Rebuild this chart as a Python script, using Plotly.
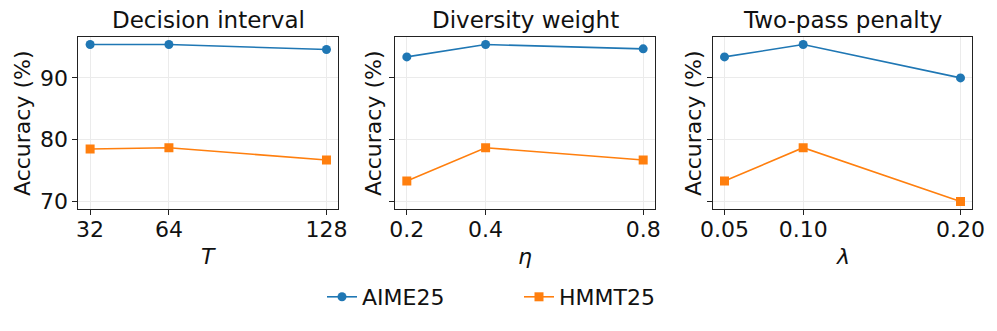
import plotly.graph_objects as go

# ablation settings
interval_T = [32, 64, 128]
diversity_eta = [0.2, 0.4, 0.8]
penalty_lambda = [0.05, 0.10, 0.20]

tick_T = ["32", "64", "128"]
tick_eta = ["0.2", "0.4", "0.8"]
tick_lambda = ["0.05", "0.10", "0.20"]

# accuracy (%)
aime_T = [95.4, 95.4, 94.6]
hmmt_T = [78.5, 78.7, 76.7]
aime_eta = [93.4, 95.4, 94.7]
hmmt_eta = [73.3, 78.7, 76.7]
aime_lambda = [93.4, 95.4, 90.0]
hmmt_lambda = [73.3, 78.7, 70.0]

titles = ["Decision interval", "Diversity weight", "Two-pass penalty"]
xlabels = ["<i>T</i>", "<i>η</i>", "<i>λ</i>"]

BLUE = "#1f77b4"
ORANGE = "#ff7f0e"
FONT = "DejaVu Sans"

# page body has an 8px margin, so the figure is 16px smaller than the window
OFF = 8
W, H = 997 - 2 * OFF, 331 - 2 * OFF


def fx(px):
    return (px - OFF) / W


def fy(py):
    return 1 - (py - OFF) / H


panels = [
    (interval_T, tick_T, aime_T, hmmt_T),
    (diversity_eta, tick_eta, aime_eta, hmmt_eta),
    (penalty_lambda, tick_lambda, aime_lambda, hmmt_lambda),
]

# plot areas in window pixels (left, right)
px_x = [(78.3, 338.3), (395.0, 655.0), (712.7, 972.3)]
top_px, bot_px = 36.7, 209.3

fig = go.Figure()
annotations = []

all_y = aime_T + hmmt_T + aime_eta + hmmt_eta + aime_lambda + hmmt_lambda
ylo, yhi = min(all_y), max(all_y)
ypad = 0.05 * (yhi - ylo)

for i, (xs, ticks, aime, hmmt) in enumerate(panels):
    n = "" if i == 0 else str(i + 1)
    fig.add_trace(go.Scatter(
        x=xs, y=aime, name="AIME25", mode="lines+markers",
        line=dict(color=BLUE, width=1.6),
        marker=dict(symbol="circle", size=9, color=BLUE),
        xaxis="x" + n, yaxis="y" + n, showlegend=(i == 0)))
    fig.add_trace(go.Scatter(
        x=xs, y=hmmt, name="HMMT25", mode="lines+markers",
        line=dict(color=ORANGE, width=1.6),
        marker=dict(symbol="square", size=9, color=ORANGE),
        xaxis="x" + n, yaxis="y" + n, showlegend=(i == 0)))

    span = max(xs) - min(xs)
    x0, x1 = px_x[i]
    fig.layout["xaxis" + n] = dict(
        domain=[fx(x0), fx(x1)], anchor="y" + n, automargin=False,
        range=[min(xs) - 0.05 * span, max(xs) + 0.05 * span],
        tickvals=xs, ticktext=ticks, ticklabelstandoff=-5,
        showgrid=True, gridcolor="#ebebeb", gridwidth=0.8, zeroline=False,
        showline=True, linecolor="#222", linewidth=1, mirror=True,
        ticks="outside", ticklen=5, tickcolor="#222",
        tickfont=dict(size=22, color="#111", family=FONT))
    fig.layout["yaxis" + n] = dict(
        domain=[fy(bot_px), fy(top_px)], anchor="x" + n, automargin=False,
        range=[ylo - ypad, yhi + ypad], tickvals=[70, 80, 90],
        showticklabels=(i == 0),
        showgrid=True, gridcolor="#ebebeb", gridwidth=0.8, zeroline=False,
        showline=True, linecolor="#222", linewidth=1, mirror=True,
        ticks="outside", ticklen=5, tickcolor="#222",
        tickfont=dict(size=22, color="#111", family=FONT))

    cx = fx((x0 + x1) / 2)
    annotations.append(dict(text=titles[i], x=cx, y=fy(20), xref="paper", yref="paper",
                            showarrow=False, xanchor="center", yanchor="middle",
                            font=dict(size=23, color="#111", family=FONT)))
    annotations.append(dict(text=xlabels[i], x=cx, y=fy(256), xref="paper", yref="paper",
                            showarrow=False, xanchor="center", yanchor="middle",
                            font=dict(size=22, color="#111", family=FONT)))
    ylab_x = [22, 373, 693][i]
    annotations.append(dict(text="Accuracy (%)", x=fx(ylab_x), y=fy((top_px + bot_px) / 2),
                            xref="paper", yref="paper", textangle=-90,
                            showarrow=False, xanchor="center", yanchor="middle",
                            font=dict(size=22, color="#111", family=FONT)))

fig.update_layout(
    width=W, height=H, margin=dict(l=0, r=0, t=0, b=0, autoexpand=False),
    paper_bgcolor="white", plot_bgcolor="white",
    annotations=annotations,
    legend=dict(orientation="h", x=fx(322), xanchor="left", y=fy(297), yanchor="middle",
                font=dict(size=22, color="#111", family=FONT), entrywidth=152,
                tracegroupgap=0),
    font=dict(family=FONT),
)

fig.write_html("out.html")
